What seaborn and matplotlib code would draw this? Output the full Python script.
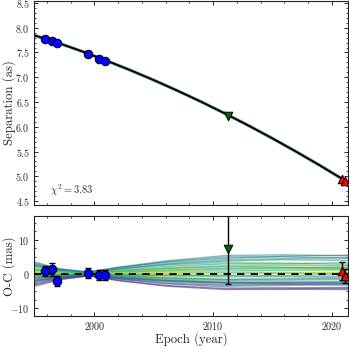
import numpy as np
import pandas as pd
import matplotlib
matplotlib.use("Agg")
import matplotlib.pyplot as plt
from matplotlib.ticker import MultipleLocator, AutoMinorLocator
import seaborn as sns

# ---------------- data ----------------
# relative astrometry (separation in arcsec)
hst_epoch = [1995.87, 1996.40, 1996.86, 1999.45, 2000.40, 2000.90]
hst_sep = [7.775, 7.730, 7.690, 7.470, 7.370, 7.330]
hst_oc = [0.85, 1.40, -2.10, 0.30, -0.30, -0.30]
hst_oc_err = [1.5, 1.9, 1.5, 1.4, 1.4, 1.4]

mid_epoch = [2011.26]
mid_sep = [6.225]
mid_oc = [7.4]
mid_oc_err = [10.3]

new_epoch = [2020.88, 2021.10]
new_sep = [4.940, 4.900]
new_oc = [1.0, -0.5]
new_oc_err = [2.6, 2.1]

# best-fit orbit separation curve
fit_epoch = [1994.9, 1997.0, 1999.0, 2001.0, 2003.0, 2005.0, 2007.0, 2009.0,
             2011.0, 2013.0, 2015.0, 2017.0, 2019.0, 2021.0, 2021.4]
fit_sep = [7.850, 7.690, 7.520, 7.338, 7.146, 6.943, 6.729, 6.505,
           6.269, 6.023, 5.766, 5.498, 5.220, 4.930, 4.871]

# posterior orbit draws, O-C relative to best fit (mas)
draw_epoch = [1994.9, 1997.0, 1999.5, 2002.0, 2006.0, 2011.0, 2016.0, 2021.4]
draw_oc = [
    [3.6, 1.6, 0.5, 2.0, 3.8, 5.4, 5.6, 5.3],
    [3.0, 1.3, 0.3, 1.6, 3.0, 4.2, 4.5, 4.8],
    [2.6, 1.1, 0.6, 1.5, 2.6, 3.4, 3.2, 2.8],
    [2.2, 1.0, 0.2, 1.1, 2.2, 3.0, 3.0, 3.3],
    [1.8, 0.8, 0.4, 1.0, 1.9, 2.6, 2.8, 2.5],
    [1.5, 0.6, 0.0, 0.8, 1.6, 2.2, 2.0, 1.6],
    [1.2, 0.5, 0.3, 0.6, 1.2, 1.7, 1.8, 2.0],
    [0.9, 0.3, -0.1, 0.5, 1.0, 1.3, 1.2, 1.0],
    [0.6, 0.2, 0.2, 0.4, 0.7, 0.9, 1.1, 1.3],
    [0.3, 0.0, -0.2, 0.1, 0.3, 0.5, 0.4, 0.2],
    [0.0, 0.1, 0.1, 0.0, -0.1, 0.0, 0.2, 0.4],
    [-0.3, -0.2, 0.0, -0.3, -0.5, -0.6, -0.4, -0.2],
    [-0.6, -0.3, -0.3, -0.5, -0.8, -1.0, -1.1, -0.9],
    [-0.9, -0.4, 0.1, -0.5, -1.1, -1.5, -1.4, -1.2],
    [-1.2, -0.6, -0.2, -0.8, -1.5, -1.9, -2.1, -2.2],
    [-1.5, -0.7, 0.2, -0.7, -1.6, -2.2, -2.3, -2.0],
    [-1.8, -0.9, -0.4, -1.2, -2.1, -2.7, -2.6, -2.4],
    [-2.1, -1.0, -0.1, -1.1, -2.2, -3.0, -3.2, -3.4],
    [-2.4, -1.2, -0.5, -1.4, -2.6, -3.3, -3.1, -2.8],
    [-2.8, -1.3, -0.2, -1.4, -2.8, -3.7, -3.9, -4.1],
    [-3.2, -1.5, -0.6, -1.8, -3.3, -4.2, -4.4, -4.5],
    [-3.6, -1.7, -0.4, -1.9, -3.5, -4.5, -4.3, -4.0],
    [2.9, 1.4, 0.7, 1.9, 3.4, 4.6, 5.2, 5.5],
    [1.0, 0.5, 0.0, 0.5, 1.0, 1.4, 1.6, 1.5],
    [-1.0, -0.5, -0.1, -0.6, -1.2, -1.6, -1.7, -1.5],
    [0.5, 0.3, 0.1, 0.3, 0.5, 0.7, 0.6, 0.5],
    [2.4, 1.2, 0.5, 1.4, 2.8, 3.8, 4.2, 4.0],
    [-2.0, -1.0, -0.3, -1.0, -1.9, -2.5, -2.8, -3.0],
    [1.4, 0.7, 0.2, 0.9, 1.7, 2.3, 2.5, 2.4],
    [-0.5, -0.2, 0.0, -0.2, -0.4, -0.5, -0.7, -0.8],
    [3.3, 1.5, 0.4, 1.8, 3.6, 5.0, 5.0, 4.6],
    [-1.4, -0.7, -0.3, -0.9, -1.8, -2.4, -2.5, -2.6],
]
# colour of each draw (position along viridis)
draw_cval = [0.45, 0.55, 0.70, 0.50, 0.85, 0.60, 0.40, 0.95, 0.65, 0.52,
             0.75, 0.48, 0.90, 0.35, 0.58, 0.80, 0.30, 0.62, 0.20, 0.25,
             0.10, 0.15, 0.42, 0.72, 0.55, 0.98, 0.38, 0.22, 0.68, 0.50,
             0.46, 0.33]

# ---------------- style ----------------
sns.set_style("ticks")
plt.rcParams.update({
    "font.family": "serif",
    "font.serif": ["cmr10", "DejaVu Serif"],
    "mathtext.fontset": "cm",
    "axes.formatter.use_mathtext": True,
    "axes.unicode_minus": True,
    "axes.edgecolor": "#222222",
    "axes.linewidth": 0.8,
    "xtick.direction": "in",
    "ytick.direction": "in",
    "xtick.top": True,
    "ytick.right": True,
    "xtick.major.size": 3.2,
    "ytick.major.size": 3.2,
    "xtick.minor.size": 1.6,
    "ytick.minor.size": 1.6,
    "xtick.major.width": 0.7,
    "ytick.major.width": 0.7,
    "xtick.minor.width": 0.6,
    "ytick.minor.width": 0.6,
    "xtick.minor.visible": True,
    "ytick.minor.visible": True,
    "xtick.labelsize": 7.2,
    "ytick.labelsize": 7.2,
    "xtick.major.pad": 3.0,
    "ytick.major.pad": 3.0,
    "axes.labelsize": 9.2,
})

fig = plt.figure(figsize=(3.49, 3.49), dpi=100)
W, H = 349.0, 349.0
left, right = 34 / W, 348 / W
ax1 = fig.add_axes([left, 1 - 205 / H, right - left, 204 / H])
ax2 = fig.add_axes([left, 1 - 316 / H, right - left, 100 / H])

xlim = (1994.92, 2021.37)
msize = 38

# ---------------- top panel ----------------
fit_df = pd.DataFrame({"epoch": fit_epoch, "sep": fit_sep})
sns.lineplot(data=fit_df, x="epoch", y="sep", ax=ax1, color="#2a7f6f",
             lw=2.4, alpha=0.6, sort=True, estimator=None)
sns.lineplot(data=fit_df, x="epoch", y="sep", ax=ax1, color="black",
             lw=1.4, sort=True, estimator=None)

sns.scatterplot(x=hst_epoch, y=hst_sep, ax=ax1, color="#0000ff", marker="o",
                s=msize, edgecolor="black", linewidth=0.7, zorder=5)
sns.scatterplot(x=mid_epoch, y=mid_sep, ax=ax1, color="#006400", marker="v",
                s=msize, edgecolor="black", linewidth=0.7, zorder=5)
sns.scatterplot(x=new_epoch, y=new_sep, ax=ax1, color="#ff0000", marker="^",
                s=msize, edgecolor="black", linewidth=0.7, zorder=5)

ax1.set_xlim(*xlim)
ax1.set_ylim(4.42, 8.54)
ax1.xaxis.set_major_locator(MultipleLocator(10))
ax1.xaxis.set_minor_locator(MultipleLocator(2))
ax1.yaxis.set_major_locator(MultipleLocator(0.5))
ax1.yaxis.set_minor_locator(MultipleLocator(0.1))
ax1.set_xticklabels([])
ax1.set_xlabel("")
ax1.set_ylabel("Separation (as)")
ax1.yaxis.set_label_coords(-0.056, 0.5)
ax1.text(0.051, 0.073, r"$\chi^2 = 3.83$", transform=ax1.transAxes,
         fontsize=7.5, ha="left", va="center")

# ---------------- bottom panel ----------------
rows = []
for i, vals in enumerate(draw_oc):
    for e, v in zip(draw_epoch, vals):
        rows.append({"epoch": e, "oc": v, "draw": i})
draws_df = pd.DataFrame(rows)
cmap = plt.get_cmap("viridis")
pal = {i: cmap(c) for i, c in enumerate(draw_cval)}
sns.lineplot(data=draws_df, x="epoch", y="oc", hue="draw", palette=pal,
             ax=ax2, lw=1.0, alpha=0.55, legend=False, estimator=None,
             sort=True)

ax2.axhline(0, color="black", lw=1.3, ls=(0, (4, 3.5)), zorder=3)

for ep, oc, err, col, mk in [
    (hst_epoch, hst_oc, hst_oc_err, "#0000ff", "o"),
    (mid_epoch, mid_oc, mid_oc_err, "#006400", "v"),
    (new_epoch, new_oc, new_oc_err, "#ff0000", "^"),
]:
    ax2.errorbar(ep, oc, yerr=err, fmt="none", ecolor="black", elinewidth=1.0,
                 capsize=2.4, capthick=1.0, zorder=4)
    sns.scatterplot(x=ep, y=oc, ax=ax2, color=col, marker=mk, s=msize,
                    edgecolor="black", linewidth=0.7, zorder=5)

ax2.set_xlim(*xlim)
ax2.set_ylim(-12.2, 16.9)
ax2.xaxis.set_major_locator(MultipleLocator(10))
ax2.xaxis.set_minor_locator(MultipleLocator(2))
ax2.yaxis.set_major_locator(MultipleLocator(10))
ax2.yaxis.set_minor_locator(AutoMinorLocator(4))
ax2.set_xlabel("Epoch (year)")
ax2.set_ylabel("O-C (mas)")
ax2.yaxis.set_label_coords(-0.056, 0.5)
ax2.xaxis.set_label_coords(0.5, -0.165)

fig.savefig("out.png", dpi=100)
